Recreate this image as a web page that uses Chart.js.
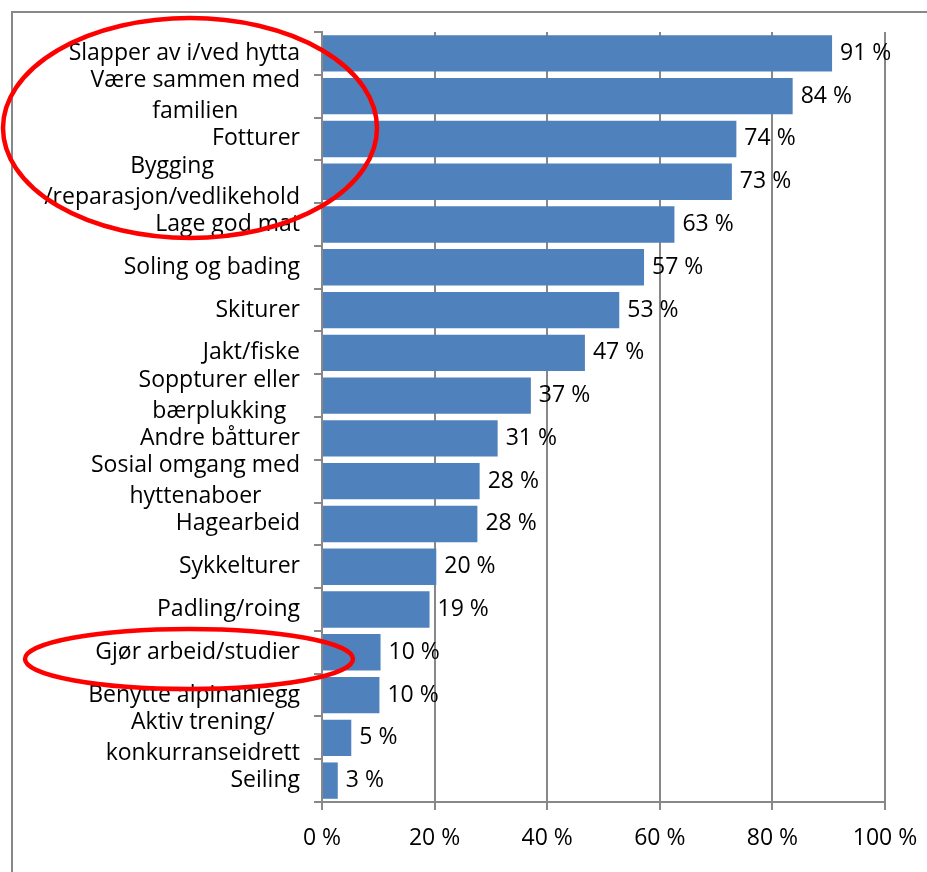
<!DOCTYPE html>
<html>
<head>
<meta charset="utf-8">
<script src="https://cdn.jsdelivr.net/npm/chart.js@4"></script>
<style>
  html, body { margin: 0; padding: 0; background: #ffffff; }
  #wrap { width: 927px; height: 872px; }
</style>
</head>
<body>
<div id="wrap"><canvas id="c" width="927" height="872"></canvas></div>
<script>
// ---- data ----
const categories = [
  "Slapper av i/ved hytta",
  ["Være sammen med", "familien"],
  "Fotturer",
  ["Bygging", "/reparasjon/vedlikehold"],
  "Lage god mat",
  "Soling og bading",
  "Skiturer",
  "Jakt/fiske",
  ["Soppturer eller", "bærplukking"],
  "Andre båtturer",
  ["Sosial omgang med", "hyttenaboer"],
  "Hagearbeid",
  "Sykkelturer",
  "Padling/roing",
  "Gjør arbeid/studier",
  "Benytte alpinanlegg",
  ["Aktiv trening/", "konkurranseidrett"],
  "Seiling"
];
const values = [90.6, 83.6, 73.6, 72.8, 62.6, 57.2, 52.8, 46.7, 37.1, 31.2, 28.0, 27.6, 20.3, 19.1, 10.4, 10.2, 5.2, 2.8];
const xTicks = [0, 20, 40, 60, 80, 100];

const FONT = '"Open Sans", "DejaVu Sans", sans-serif';
const FONT_SIZE = 23;
const GRAY = '#888888';

const decorPlugin = {
  id: 'decor',
  afterDraw(chart) {
    const ctx = chart.ctx;
    const y = chart.scales.y;
    const x = chart.scales.x;
    ctx.save();
    ctx.font = FONT_SIZE + 'px ' + FONT;
    ctx.fillStyle = '#000000';
    ctx.textBaseline = 'middle';
    // category labels (wrapped lines centred on each other, block right-aligned)
    const rightEdge = y.right - 22;
    categories.forEach((lab, i) => {
      const lines = Array.isArray(lab) ? lab : [lab];
      const widest = Math.max(...lines.map(l => ctx.measureText(l).width));
      const cx = rightEdge - widest / 2;
      const yc = y.getPixelForValue(i);
      const lh = 31;
      const y0 = yc - (lines.length - 1) * lh / 2;
      ctx.textAlign = 'center';
      lines.forEach((l, k) => ctx.fillText(l, cx, y0 + k * lh));
    });
    // data labels
    ctx.textAlign = 'left';
    values.forEach((v, i) => {
      ctx.fillText(Math.round(v) + ' %', x.getPixelForValue(v) + 8, y.getPixelForValue(i));
    });
    // outer frame
    ctx.strokeStyle = GRAY;
    ctx.lineWidth = 2;
    ctx.strokeRect(12, 12, 940, 900);
    // red ellipses
    ctx.strokeStyle = '#ff0000';
    ctx.lineWidth = 4.5;
    ctx.beginPath();
    ctx.ellipse(190, 128, 187, 110, 0, 0, Math.PI * 2);
    ctx.stroke();
    ctx.beginPath();
    ctx.ellipse(189, 659, 164, 30, 0, 0, Math.PI * 2);
    ctx.stroke();
    ctx.restore();
  }
};

new Chart(document.getElementById('c'), {
  type: 'bar',
  data: {
    labels: categories,
    datasets: [{
      data: values,
      backgroundColor: '#4F81BD',
      borderWidth: 0,
      barPercentage: 0.85,
      categoryPercentage: 1.0
    }]
  },
  options: {
    indexAxis: 'y',
    responsive: false,
    animation: false,
    devicePixelRatio: 1,
    layout: { padding: { top: 32, right: 42, left: 0, bottom: 0 } },
    plugins: { legend: { display: false }, tooltip: { enabled: false } },
    scales: {
      x: {
        type: 'linear',
        min: 0,
        max: 100,
        afterBuildTicks(scale) { scale.ticks = xTicks.map(v => ({ value: v })); },
        afterFit(scale) { scale.height = 70; scale.paddingRight = 0; scale.paddingLeft = 0; },
        ticks: {
          color: '#000000',
          font: { family: FONT, size: FONT_SIZE },
          padding: 15,
          maxRotation: 0,
          callback: v => v + ' %'
        },
        grid: { color: GRAY, lineWidth: 2, tickLength: 8, drawTicks: true },
        border: { color: GRAY, width: 2 }
      },
      y: {
        type: 'category',
        offset: true,
        afterFit(scale) { scale.width = 322; scale.paddingTop = 0; scale.paddingBottom = 0; },
        ticks: { display: false },
        grid: { drawOnChartArea: false, color: GRAY, lineWidth: 2, tickLength: 8, offset: true },
        border: { color: GRAY, width: 2 }
      }
    }
  },
  plugins: [decorPlugin]
});
</script>
</body>
</html>
